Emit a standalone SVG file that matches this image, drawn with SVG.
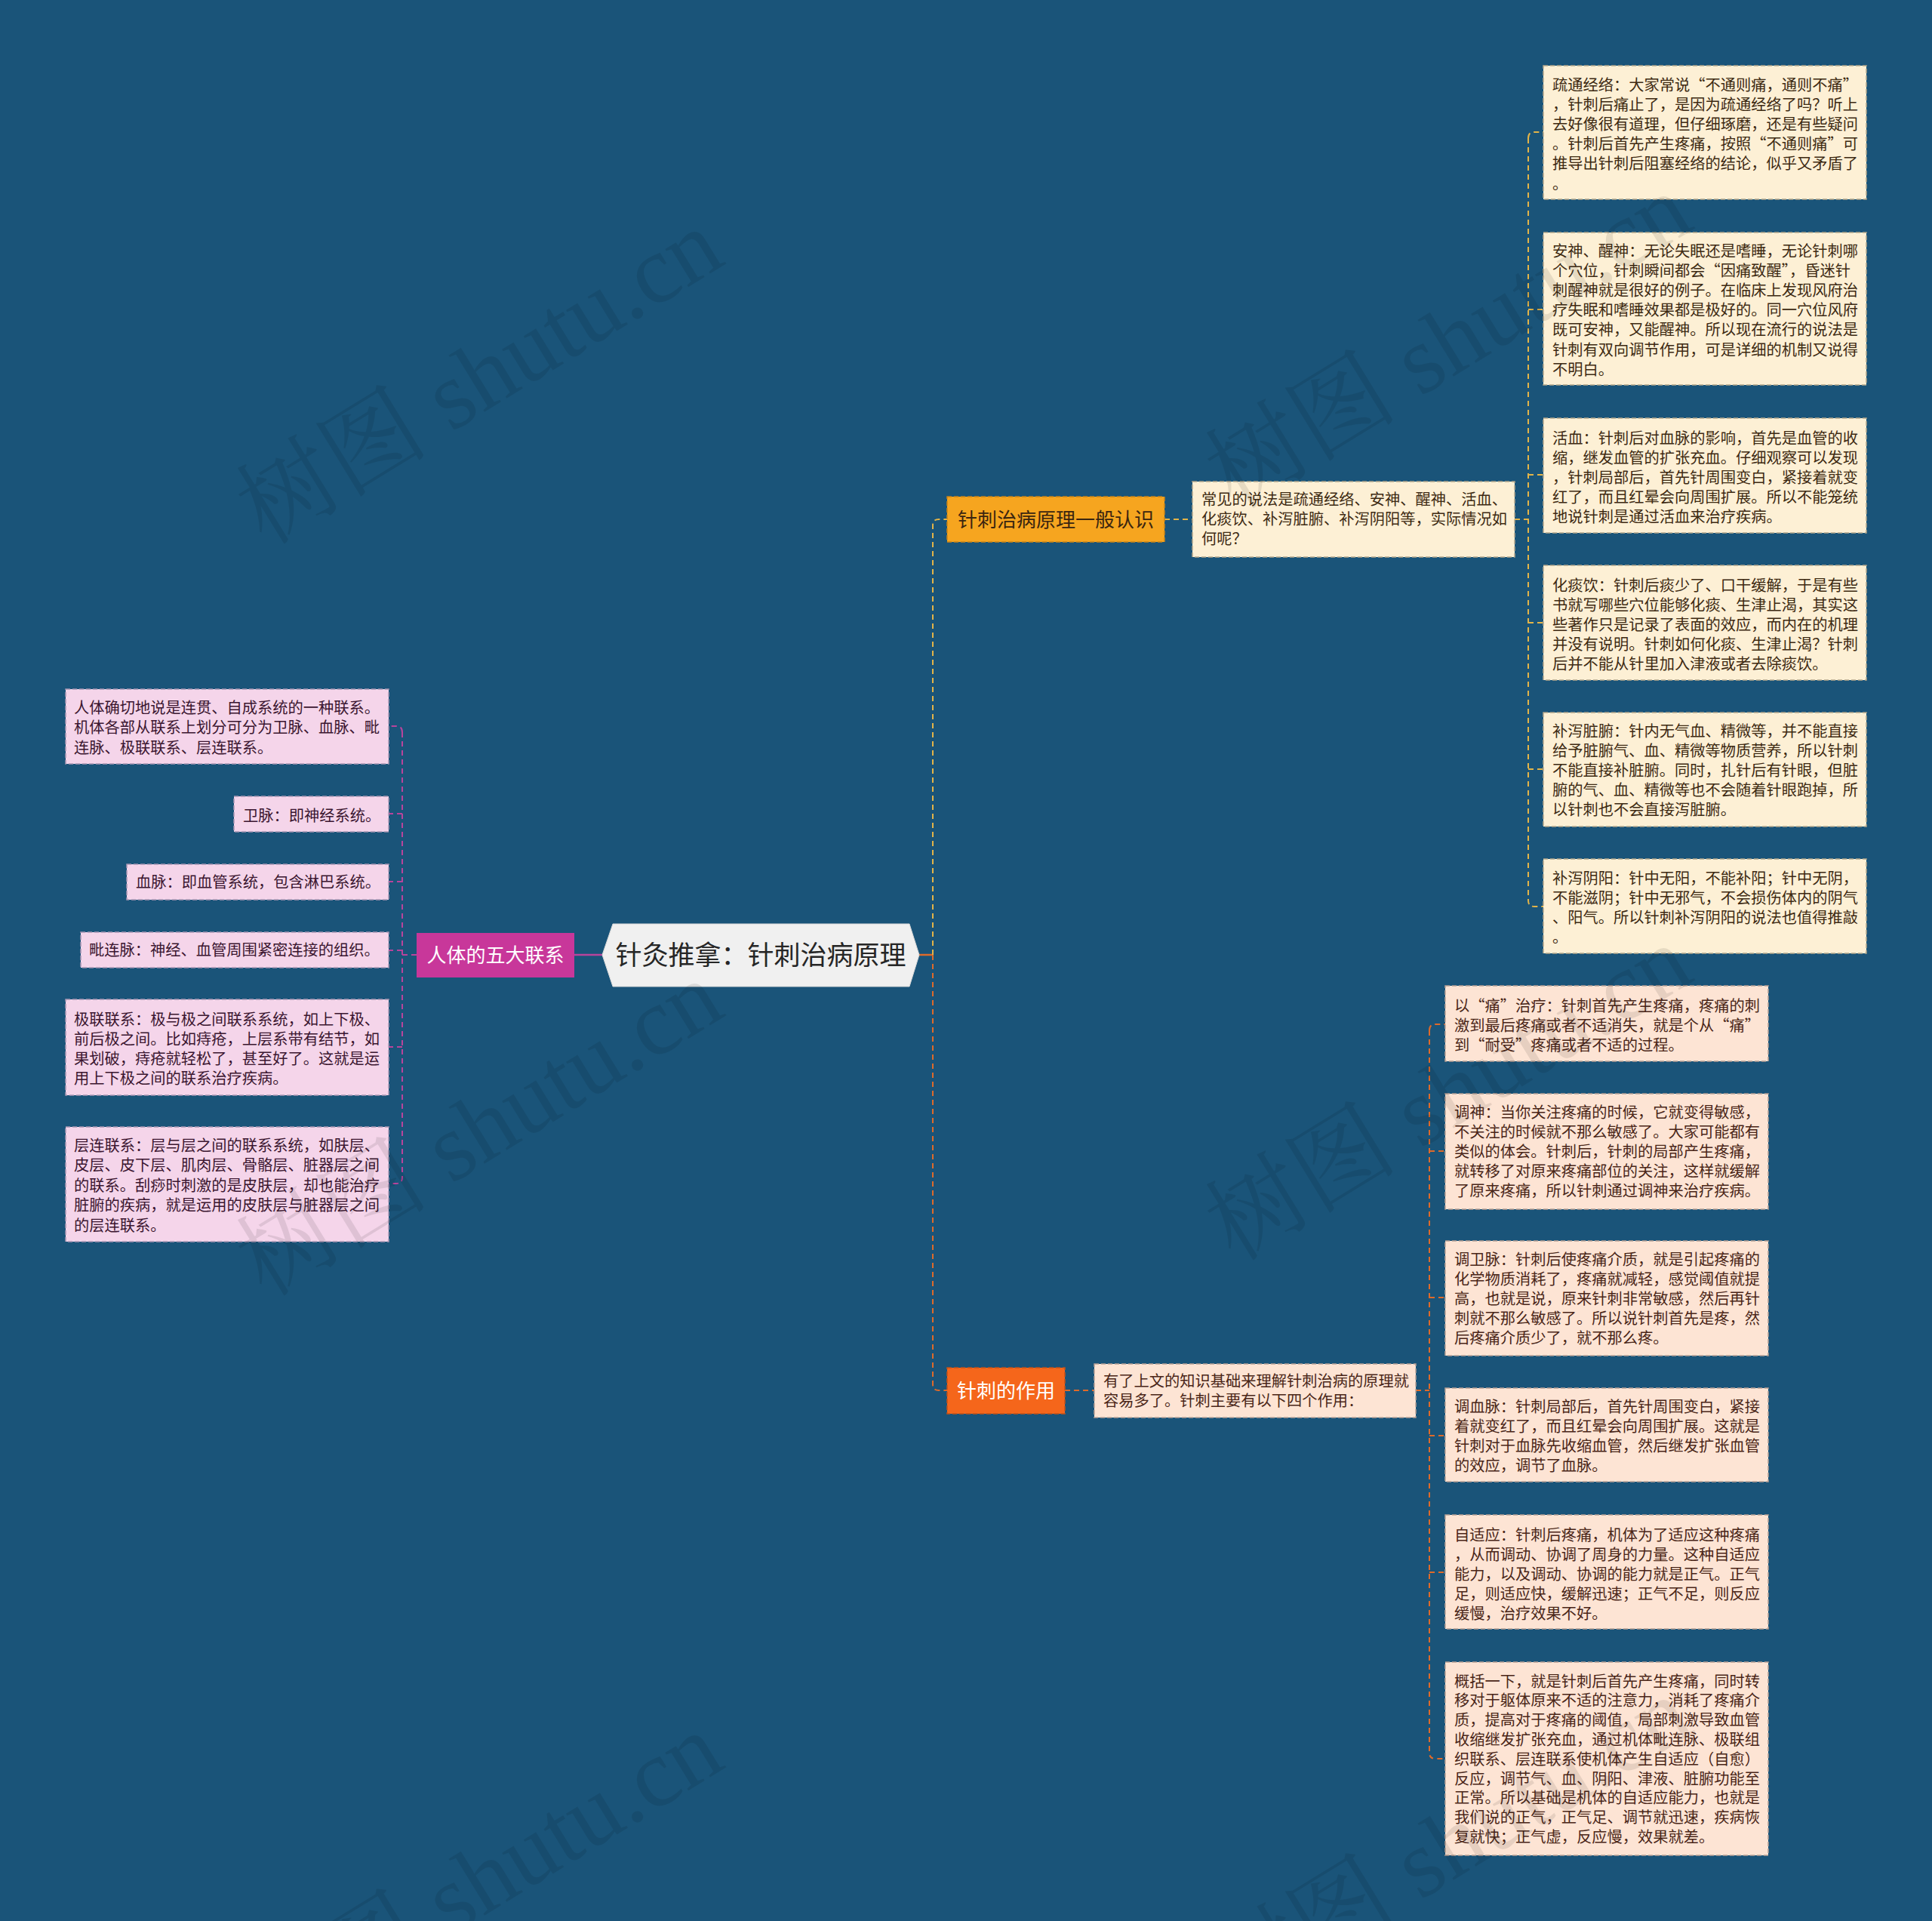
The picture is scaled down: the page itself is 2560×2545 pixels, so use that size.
<svg xmlns="http://www.w3.org/2000/svg" width="2560" height="2545" viewBox="0 0 2560 2545">
<style>
text{font-family:"Noto Sans CJK SC","Noto Sans",sans-serif}
.leaf{font-size:20.25px}
.cream{fill:#fdf0d5;stroke:#b3a78c;stroke-width:1.5;stroke-dasharray:6 3}
.peach{fill:#fde4d4;stroke:#b7a095;stroke-width:1.5;stroke-dasharray:6 3}
.pink{fill:#f5d5ea;stroke:#a897b4;stroke-width:1.5;stroke-dasharray:6 3}
.tc{fill:#3d2a12}
.tp{fill:#4a2618}
.tk{fill:#3b1630}
.gold{stroke:#e3b448;stroke-width:2;fill:none;stroke-dasharray:7 5}
.org{stroke:#de6a2a;stroke-width:2;fill:none;stroke-dasharray:7 5}
.mag{stroke:#b8449c;stroke-width:2;fill:none;stroke-dasharray:7 5}
.wm{font-family:"Liberation Serif","Noto Serif CJK SC","Noto Sans CJK SC",serif;font-size:128px;fill:#000;fill-opacity:0.09}
</style>
<rect width="2560" height="2545" fill="#1a5479"/>

<g id="connectors">
  <line x1="1218" y1="1265" x2="1236" y2="1265" stroke="#de6a2a" stroke-width="2.5"/>
  <path class="gold" d="M1236 1265 V696 Q1236 688 1244 688 H1255"/>
  <path class="org" d="M1236 1265 V1834 Q1236 1842 1244 1842 H1255"/>
  <line x1="761" y1="1265" x2="798" y2="1265" stroke="#b8449c" stroke-width="2.5"/>
  <path class="mag" d="M552 1265 H533"/>
  <path class="mag" d="M533 970 Q533 962 525 962 H515 M533 970 V1560 Q533 1568 525 1568 H515"/>
  <path class="mag" d="M533 1078 H515 M533 1168 H515 M533 1259 H515 M533 1387 H515"/>
  <path class="gold" d="M1543 688 H1580"/>
  <path class="gold" d="M2007 688 H2025"/>
  <path class="gold" d="M2025 183 Q2025 175 2033 175 H2045 M2025 183 V1193 Q2025 1201 2033 1201 H2045"/>
  <path class="gold" d="M2025 410 H2045 M2025 629 H2045 M2025 825 H2045 M2025 1019 H2045"/>
  <path class="org" d="M1411 1842 H1450"/>
  <path class="org" d="M1876 1842 H1894"/>
  <path class="org" d="M1894 1365 Q1894 1357 1902 1357 H1915 M1894 1365 V2322 Q1894 2330 1902 2330 H1915"/>
  <path class="org" d="M1894 1525 H1915 M1894 1719 H1915 M1894 1902 H1915 M1894 2083 H1915"/>
</g>

<g id="center">
  <polygon points="798,1265 812,1224 1205,1224 1218,1265 1205,1307 812,1307" fill="#f0f0f0" stroke="#d8d8d8" stroke-width="1"/>
  <text x="1008" y="1278" font-size="35" text-anchor="middle" fill="#262626">针灸推拿：针刺治病原理</text>
</g>

<g id="branch-left">
  <rect x="552" y="1236" width="209" height="59" fill="#c8379a"/>
  <text x="656.5" y="1274.5" font-size="26" text-anchor="middle" fill="#ffffff">人体的五大联系</text>
</g>

<g id="branch-1">
  <rect x="1255" y="658" width="288" height="60" fill="#f6a51f" stroke="#c98418" stroke-width="1.5" stroke-dasharray="6 3"/>
  <text x="1399" y="697.5" font-size="26" text-anchor="middle" fill="#3a2510">针刺治病原理一般认识</text>
</g>

<g id="branch-2">
  <rect x="1255" y="1812" width="156" height="61" fill="#f5661b" stroke="#c2521a" stroke-width="1.5" stroke-dasharray="6 3"/>
  <text x="1333" y="1851.5" font-size="26" text-anchor="middle" fill="#ffffff">针刺的作用</text>
</g>

<g id="desc-1">
  <rect class="cream" x="1580" y="638" width="427" height="100"/>
  <text class="leaf tc" x="1592" y="668.5"><tspan x="1592">常见的说法是疏通经络、安神、醒神、活血、</tspan><tspan x="1592" dy="26.2">化痰饮、补泻脏腑、补泻阴阳等，实际情况如</tspan><tspan x="1592" dy="26.2">何呢？</tspan></text>
</g>

<g id="desc-2">
  <rect class="peach" x="1450" y="1807" width="426" height="71"/>
  <text class="leaf tp" x="1462" y="1836.5"><tspan x="1462">有了上文的知识基础来理解针刺治病的原理就</tspan><tspan x="1462" dy="26.2">容易多了。针刺主要有以下四个作用：</tspan></text>
</g>

<g id="r1">
  <rect class="cream" x="2045" y="87" width="428" height="177"/>
  <text class="leaf tc" y="119.5"><tspan x="2057">疏通经络：大家常说“不通则痛，通则不痛”</tspan><tspan x="2057" dy="26.2">，针刺后痛止了，是因为疏通经络了吗？听上</tspan><tspan x="2057" dy="26.2">去好像很有道理，但仔细琢磨，还是有些疑问</tspan><tspan x="2057" dy="26.2">。针刺后首先产生疼痛，按照“不通则痛”可</tspan><tspan x="2057" dy="26.2">推导出针刺后阻塞经络的结论，似乎又矛盾了</tspan><tspan x="2057" dy="26.2">。</tspan></text>
</g>
<g id="r2">
  <rect class="cream" x="2045" y="308" width="428" height="202"/>
  <text class="leaf tc" y="339.5"><tspan x="2057">安神、醒神：无论失眠还是嗜睡，无论针刺哪</tspan><tspan x="2057" dy="26.2">个穴位，针刺瞬间都会“因痛致醒”，昏迷针</tspan><tspan x="2057" dy="26.2">刺醒神就是很好的例子。在临床上发现风府治</tspan><tspan x="2057" dy="26.2">疗失眠和嗜睡效果都是极好的。同一穴位风府</tspan><tspan x="2057" dy="26.2">既可安神，又能醒神。所以现在流行的说法是</tspan><tspan x="2057" dy="26.2">针刺有双向调节作用，可是详细的机制又说得</tspan><tspan x="2057" dy="26.2">不明白。</tspan></text>
</g>
<g id="r3">
  <rect class="cream" x="2045" y="554" width="428" height="152"/>
  <text class="leaf tc" y="587.5"><tspan x="2057">活血：针刺后对血脉的影响，首先是血管的收</tspan><tspan x="2057" dy="26.2">缩，继发血管的扩张充血。仔细观察可以发现</tspan><tspan x="2057" dy="26.2">，针刺局部后，首先针周围变白，紧接着就变</tspan><tspan x="2057" dy="26.2">红了，而且红晕会向周围扩展。所以不能笼统</tspan><tspan x="2057" dy="26.2">地说针刺是通过活血来治疗疾病。</tspan></text>
</g>
<g id="r4">
  <rect class="cream" x="2045" y="749" width="428" height="152"/>
  <text class="leaf tc" y="782.5"><tspan x="2057">化痰饮：针刺后痰少了、口干缓解，于是有些</tspan><tspan x="2057" dy="26.2">书就写哪些穴位能够化痰、生津止渴，其实这</tspan><tspan x="2057" dy="26.2">些著作只是记录了表面的效应，而内在的机理</tspan><tspan x="2057" dy="26.2">并没有说明。针刺如何化痰、生津止渴？针刺</tspan><tspan x="2057" dy="26.2">后并不能从针里加入津液或者去除痰饮。</tspan></text>
</g>
<g id="r5">
  <rect class="cream" x="2045" y="944" width="428" height="151"/>
  <text class="leaf tc" y="975.5"><tspan x="2057">补泻脏腑：针内无气血、精微等，并不能直接</tspan><tspan x="2057" dy="26.2">给予脏腑气、血、精微等物质营养，所以针刺</tspan><tspan x="2057" dy="26.2">不能直接补脏腑。同时，扎针后有针眼，但脏</tspan><tspan x="2057" dy="26.2">腑的气、血、精微等也不会随着针眼跑掉，所</tspan><tspan x="2057" dy="26.2">以针刺也不会直接泻脏腑。</tspan></text>
</g>
<g id="r6">
  <rect class="cream" x="2045" y="1138" width="428" height="125"/>
  <text class="leaf tc" y="1170.5"><tspan x="2057">补泻阴阳：针中无阳，不能补阳；针中无阴，</tspan><tspan x="2057" dy="26.2">不能滋阴；针中无邪气，不会损伤体内的阴气</tspan><tspan x="2057" dy="26.2">、阳气。所以针刺补泻阴阳的说法也值得推敲</tspan><tspan x="2057" dy="26.2">。</tspan></text>
</g>

<g id="ra">
  <rect class="peach" x="1915" y="1306" width="428" height="100"/>
  <text class="leaf tp" y="1339.5"><tspan x="1927">以“痛”治疗：针刺首先产生疼痛，疼痛的刺</tspan><tspan x="1927" dy="26.2">激到最后疼痛或者不适消失，就是个从“痛”</tspan><tspan x="1927" dy="26.2">到“耐受”疼痛或者不适的过程。</tspan></text>
</g>
<g id="rb">
  <rect class="peach" x="1915" y="1449" width="428" height="153"/>
  <text class="leaf tp" y="1480.5"><tspan x="1927">调神：当你关注疼痛的时候，它就变得敏感，</tspan><tspan x="1927" dy="26.2">不关注的时候就不那么敏感了。大家可能都有</tspan><tspan x="1927" dy="26.2">类似的体会。针刺后，针刺的局部产生疼痛，</tspan><tspan x="1927" dy="26.2">就转移了对原来疼痛部位的关注，这样就缓解</tspan><tspan x="1927" dy="26.2">了原来疼痛，所以针刺通过调神来治疗疾病。</tspan></text>
</g>
<g id="rc">
  <rect class="peach" x="1915" y="1644" width="428" height="152"/>
  <text class="leaf tp" y="1675.5"><tspan x="1927">调卫脉：针刺后使疼痛介质，就是引起疼痛的</tspan><tspan x="1927" dy="26.2">化学物质消耗了，疼痛就减轻，感觉阈值就提</tspan><tspan x="1927" dy="26.2">高，也就是说，原来针刺非常敏感，然后再针</tspan><tspan x="1927" dy="26.2">刺就不那么敏感了。所以说针刺首先是疼，然</tspan><tspan x="1927" dy="26.2">后疼痛介质少了，就不那么疼。</tspan></text>
</g>
<g id="rd">
  <rect class="peach" x="1915" y="1839" width="428" height="124"/>
  <text class="leaf tp" y="1870.5"><tspan x="1927">调血脉：针刺局部后，首先针周围变白，紧接</tspan><tspan x="1927" dy="26.2">着就变红了，而且红晕会向周围扩展。这就是</tspan><tspan x="1927" dy="26.2">针刺对于血脉先收缩血管，然后继发扩张血管</tspan><tspan x="1927" dy="26.2">的效应，调节了血脉。</tspan></text>
</g>
<g id="re">
  <rect class="peach" x="1915" y="2007" width="428" height="151"/>
  <text class="leaf tp" y="2040.5"><tspan x="1927">自适应：针刺后疼痛，机体为了适应这种疼痛</tspan><tspan x="1927" dy="26.2">，从而调动、协调了周身的力量。这种自适应</tspan><tspan x="1927" dy="26.2">能力，以及调动、协调的能力就是正气。正气</tspan><tspan x="1927" dy="26.2">足，则适应快，缓解迅速；正气不足，则反应</tspan><tspan x="1927" dy="26.2">缓慢，治疗效果不好。</tspan></text>
</g>
<g id="rf">
  <rect class="peach" x="1915" y="2202" width="428" height="256"/>
  <text class="leaf tp" y="2234.5"><tspan x="1927">概括一下，就是针刺后首先产生疼痛，同时转</tspan><tspan x="1927" dy="25.8">移对于躯体原来不适的注意力，消耗了疼痛介</tspan><tspan x="1927" dy="25.8">质，提高对于疼痛的阈值，局部刺激导致血管</tspan><tspan x="1927" dy="25.8">收缩继发扩张充血，通过机体毗连脉、极联组</tspan><tspan x="1927" dy="25.8">织联系、层连联系使机体产生自适应（自愈）</tspan><tspan x="1927" dy="25.8">反应，调节气、血、阴阳、津液、脏腑功能至</tspan><tspan x="1927" dy="25.8">正常。所以基础是机体的自适应能力，也就是</tspan><tspan x="1927" dy="25.8">我们说的正气，正气足、调节就迅速，疾病恢</tspan><tspan x="1927" dy="25.8">复就快；正气虚，反应慢，效果就差。</tspan></text>
</g>

<g id="l1">
  <rect class="pink" x="87" y="913" width="428" height="99"/>
  <text class="leaf tk" y="944.5"><tspan x="98">人体确切地说是连贯、自成系统的一种联系。</tspan><tspan x="98" dy="26.5">机体各部从联系上划分可分为卫脉、血脉、毗</tspan><tspan x="98" dy="26.5">连脉、极联联系、层连联系。</tspan></text>
</g>
<g id="l2">
  <rect class="pink" x="310" y="1055" width="205" height="47"/>
  <text class="leaf tk" x="322" y="1087.5">卫脉：即神经系统。</text>
</g>
<g id="l3">
  <rect class="pink" x="168" y="1145" width="347" height="47"/>
  <text class="leaf tk" x="180" y="1175.5">血脉：即血管系统，包含淋巴系统。</text>
</g>
<g id="l4">
  <rect class="pink" x="107" y="1235" width="408" height="47"/>
  <text class="leaf tk" x="118" y="1265.5">毗连脉：神经、血管周围紧密连接的组织。</text>
</g>
<g id="l5">
  <rect class="pink" x="87" y="1324" width="428" height="127"/>
  <text class="leaf tk" y="1357.5"><tspan x="98">极联联系：极与极之间联系系统，如上下极、</tspan><tspan x="98" dy="26.3">前后极之间。比如痔疮，上层系带有结节，如</tspan><tspan x="98" dy="26.3">果划破，痔疮就轻松了，甚至好了。这就是运</tspan><tspan x="98" dy="26.3">用上下极之间的联系治疗疾病。</tspan></text>
</g>
<g id="l6">
  <rect class="pink" x="87" y="1493" width="428" height="152"/>
  <text class="leaf tk" y="1524.5"><tspan x="98">层连联系：层与层之间的联系系统，如肤层、</tspan><tspan x="98" dy="26.5">皮层、皮下层、肌肉层、骨骼层、脏器层之间</tspan><tspan x="98" dy="26.5">的联系。刮痧时刺激的是皮肤层，却也能治疗</tspan><tspan x="98" dy="26.5">脏腑的疾病，就是运用的皮肤层与脏器层之间</tspan><tspan x="98" dy="26.5">的层连联系。</tspan></text>
</g>

<g id="watermarks">
  <text class="wm" x="658" y="536" text-anchor="middle" transform="rotate(-31.5 658 536)">树图 shutu.cn</text>
  <text class="wm" x="658" y="1532" text-anchor="middle" transform="rotate(-31.5 658 1532)">树图 shutu.cn</text>
  <text class="wm" x="658" y="2528" text-anchor="middle" transform="rotate(-31.5 658 2528)">树图 shutu.cn</text>
  <text class="wm" x="1942" y="489" text-anchor="middle" transform="rotate(-31.5 1942 489)">树图 shutu.cn</text>
  <text class="wm" x="1942" y="1485" text-anchor="middle" transform="rotate(-31.5 1942 1485)">树图 shutu.cn</text>
  <text class="wm" x="1942" y="2481" text-anchor="middle" transform="rotate(-31.5 1942 2481)">树图 shutu.cn</text>
</g>
</svg>
